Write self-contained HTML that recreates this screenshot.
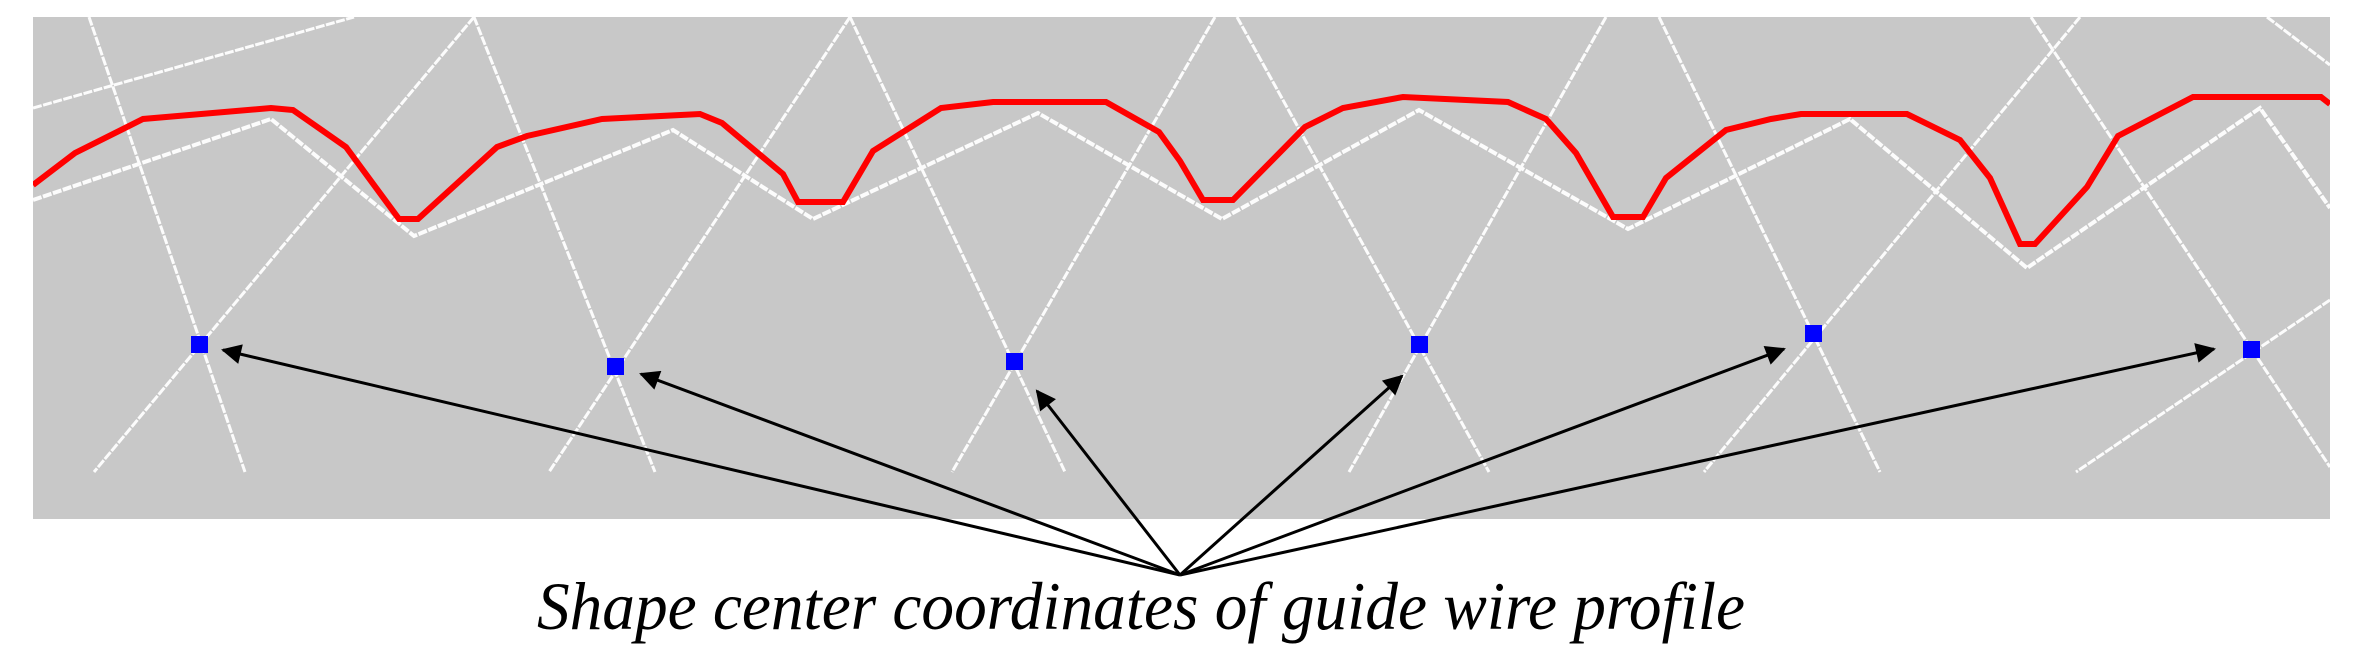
<!DOCTYPE html>
<html><head><meta charset="utf-8"><style>
html,body{margin:0;padding:0;background:#fff;}
svg{display:block;}
</style></head><body>
<svg width="2357" height="666" viewBox="0 0 2357 666" xmlns="http://www.w3.org/2000/svg">
<defs>
<marker id="ah2" viewBox="0 0 10 10" refX="9" refY="5" markerWidth="22" markerHeight="20" markerUnits="userSpaceOnUse" orient="auto"><path d="M0,0 L10,5 L0,10 z" fill="#000"/></marker>
<clipPath id="c"><rect x="33" y="17" width="2297" height="502"/></clipPath>
</defs>
<rect x="33" y="17" width="2297" height="502" fill="#c8c8c8"/>
<g clip-path="url(#c)" fill="none" stroke="#fff" stroke-width="3" stroke-dasharray="9 1.5" opacity="0.95">
<line x1="33" y1="108" x2="354" y2="17"/>
<polyline stroke-width="4" points="33,200 271,119 414,236 673,130 813,219 1038,113 1222,219 1419,110 1628,229 1850,119 2027,268 2260,108 2330,208"/>
<line x1="89" y1="17" x2="245" y2="472"/>
<line x1="474" y1="17" x2="94" y2="472"/>
<line x1="474" y1="17" x2="655" y2="472"/>
<line x1="850" y1="17" x2="549" y2="472"/>
<line x1="850" y1="17" x2="1065" y2="472"/>
<line x1="1215" y1="17" x2="952" y2="472"/>
<line x1="1237" y1="17" x2="1489" y2="472"/>
<line x1="1606" y1="17" x2="1349" y2="472"/>
<line x1="1659" y1="17" x2="1880" y2="472"/>
<line x1="2080" y1="17" x2="1704" y2="472"/>
<line x1="2031" y1="17" x2="2330" y2="467"/>
<line x1="2267" y1="17" x2="2330" y2="65"/>
<line x1="2330" y1="300" x2="2076" y2="472"/>
</g>
<polyline clip-path="url(#c)" fill="none" stroke="#ff0000" stroke-width="6" stroke-linejoin="miter" points="33,185 75,153 143,119 271,108 293,110 346,147 399,219 418,219 497,147 527,136 602,119 700,114 722,123 783,174 798,202 843,202 873,151 941,108 993,102 1106,102 1159,132 1180,161 1203,200 1233,200 1305,127 1343,108 1403,97 1508,102 1546,119 1576,153 1613,217 1643,217 1666,178 1726,130 1771,119 1801,114 1907,114 1960,140 1990,178 2020,244 2035,244 2087,187 2118,136 2193,97 2321,97 2330,104"/>
<g fill="#0000ff">
<rect x="191" y="336" width="17" height="17"/>
<rect x="607" y="358" width="17" height="17"/>
<rect x="1006" y="353" width="17" height="17"/>
<rect x="1411" y="336" width="17" height="17"/>
<rect x="1805" y="325" width="17" height="17"/>
<rect x="2243" y="341" width="17" height="17"/>
</g>
<g stroke="#000" stroke-width="3" fill="none" marker-end="url(#ah2)">
<line x1="1180" y1="575" x2="223" y2="350"/>
<line x1="1180" y1="575" x2="641" y2="374"/>
<line x1="1180" y1="575" x2="1037" y2="391"/>
<line x1="1180" y1="575" x2="1402" y2="376"/>
<line x1="1180" y1="575" x2="1784" y2="349"/>
<line x1="1180" y1="575" x2="2214" y2="349"/>
</g>
<text x="537" y="629" font-family="'Liberation Serif', serif" font-style="italic" font-size="68" textLength="1208" lengthAdjust="spacingAndGlyphs" fill="#000">Shape center coordinates of guide wire profile</text>
</svg>
</body></html>
